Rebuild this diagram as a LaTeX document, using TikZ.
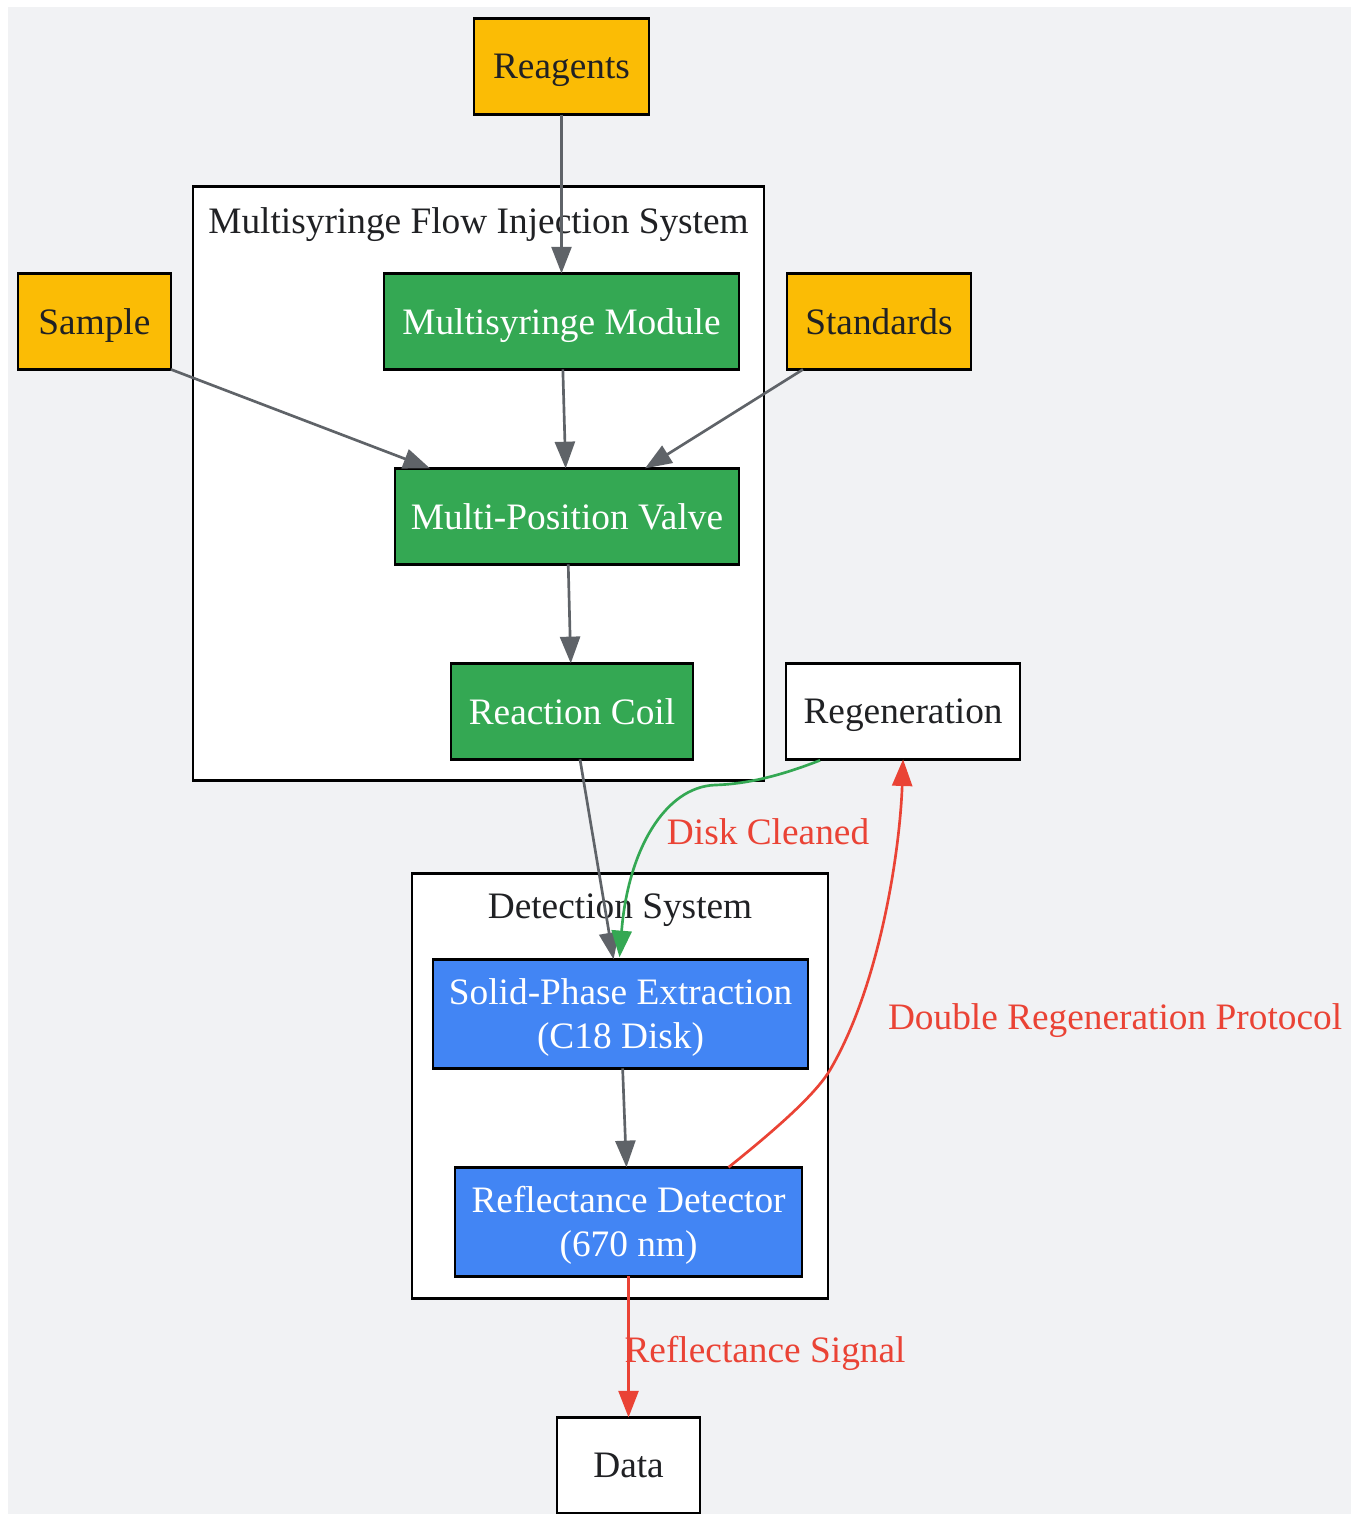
\documentclass[tikz,border=0pt]{standalone}
\usepackage{fontspec}
\setmainfont{Liberation Serif}
\usetikzlibrary{positioning,fit,calc,backgrounds}
\usetikzlibrary{arrows.meta}
\definecolor{bgrey}{HTML}{F1F2F4}
\definecolor{gyellow}{HTML}{FBBC05}
\definecolor{ggreen}{HTML}{34A853}
\definecolor{gblue}{HTML}{4285F4}
\definecolor{gred}{HTML}{EA4335}
\definecolor{edgegrey}{HTML}{5F6368}
\definecolor{gtext}{HTML}{202124}

\begin{document}
\begin{tikzpicture}[x=0.375pt, y=-0.375pt,
         box/.style = {draw=black, line width=1pt, inner sep=0pt, outer sep=0pt,
         minimum height=36pt, align=center, text depth=0pt,
         font=\fontsize{14}{16.5}\selectfont},
         supply/.style = {box, fill=gyellow, text=gtext},
         module/.style = {box, fill=ggreen, text=white},
         detect/.style = {box, fill=gblue, text=white, minimum height=40.9pt},
         plainbox/.style = {box, fill=white, text=gtext},
         cluster/.style = {draw=black, line width=1pt, fill=white, inner sep=0pt},
         clusterlabel/.style = {text=gtext, text depth=0pt,
         font=\fontsize{14}{16.5}\selectfont},
         flow/.style = {draw=edgegrey, line width=1pt,
         -{Triangle[length=10pt,width=7.5pt]}},
         cleanflow/.style = {flow, draw=ggreen},
         signal/.style = {flow, draw=gred},
         elabel/.style = {text=gred, text depth=0pt, font=\fontsize{14}{16.5}\selectfont}
]
         \useasboundingbox (0,0) rectangle (1351,1514);

         % supplies and injection system
         \node[supply, minimum width=65.6pt] (reagents) at (561.5,66.5) {Reagents};
         \node[module, minimum width=133.1pt, below=59.6pt of reagents] (msm) {Multisyringe Module};
         \node[supply, minimum width=57.4pt, left=79.9pt of msm]  (sample) {Sample};
         \node[supply, minimum width=69pt, right=18pt of msm]      (standards) {Standards};
         \node[module, minimum width=129pt, below=37.1pt of msm, xshift=2.06pt]  (mpv) {Multi-Position Valve};
         \node[module, minimum width=90.75pt, below=37.1pt of mpv, xshift=1.875pt] (rc) {Reaction Coil};
         \node[plainbox, minimum width=87.75pt, right=34.9pt of rc] (regen) {Regeneration};

         % detection
         \node[detect, minimum width=140.6pt, below=75pt of rc, xshift=18.2pt] (spe)
            {Solid-Phase Extraction\\(C18 Disk)};
         \node[detect, minimum width=130.1pt, below=37.1pt of spe, xshift=3pt] (rd)
            {Reflectance Detector\\(670 nm)};
         \node[plainbox, minimum width=53.6pt, below=52.9pt of rd] (data) {Data};

         \begin{scope}[on background layer]
            \fill[bgrey] (8,7) rectangle (1351,1514);
            \coordinate (c1a) at ($(msm.north west)+(-191,-87)$);
            \coordinate (c1b) at ($(rc.south east)+(71,21)$);
            \node[cluster, fit=(c1a)(c1b)] (mfis) {};
            \node[clusterlabel] (mfislbl) at ($(mfis.north)+(0,35)$)
               {Multisyringe Flow Injection System};
            \coordinate (c2a) at ($(spe.north west)+(-21,-86)$);
            \coordinate (c2b) at ($(rd.south east)+(26,22)$);
            \node[cluster, fit=(c2a)(c2b)] (dets) {};
            \node[clusterlabel] (detslbl) at ($(dets.north)+(0,34)$) {Detection System};
         \end{scope}

         \draw[flow] (reagents) -- (msm);
         \draw[flow] (sample.south east) -- ($(mpv.north west)+(35,0)$);
         \draw[flow] (msm) -- (mpv);
         \draw[flow] ($(standards.south west)+(16,0)$) -- ($(mpv.north)+(78,0)$);
         \draw[flow] (mpv) -- (rc);
         \draw[flow] ($(rc.south)+(8,0)$) -- ($(spe.north)+(-7,0)$);
         \draw[flow] (spe) -- (rd);

         % regeneration loop
         \draw[cleanflow] ($(regen.south west)+(34,1)$)
            .. controls (785,774) and (750,784) .. (715,785)
            .. controls (665,787) and (628,850) .. ($(spe.north)+(-1,-2)$);
         \draw[signal] ($(rd.north)+(100,0)$)
            .. controls (775,1130) and (815,1095) .. (830,1070)
            .. controls (880,985) and (900,850) .. (regen.south);
         \draw[signal] (rd) -- (data);

         \node[elabel] (lbldisk) at ($(regen.south)+(-135,72)$) {Disk Cleaned};
         \node[elabel] (lbldouble) at ($(regen.south)+(212,257)$) {Double Regeneration Protocol};
         \node[elabel] (lblsignal) at ($(data.north)+(136.5,-68)$) {Reflectance Signal};

\end{tikzpicture}
\end{document}
